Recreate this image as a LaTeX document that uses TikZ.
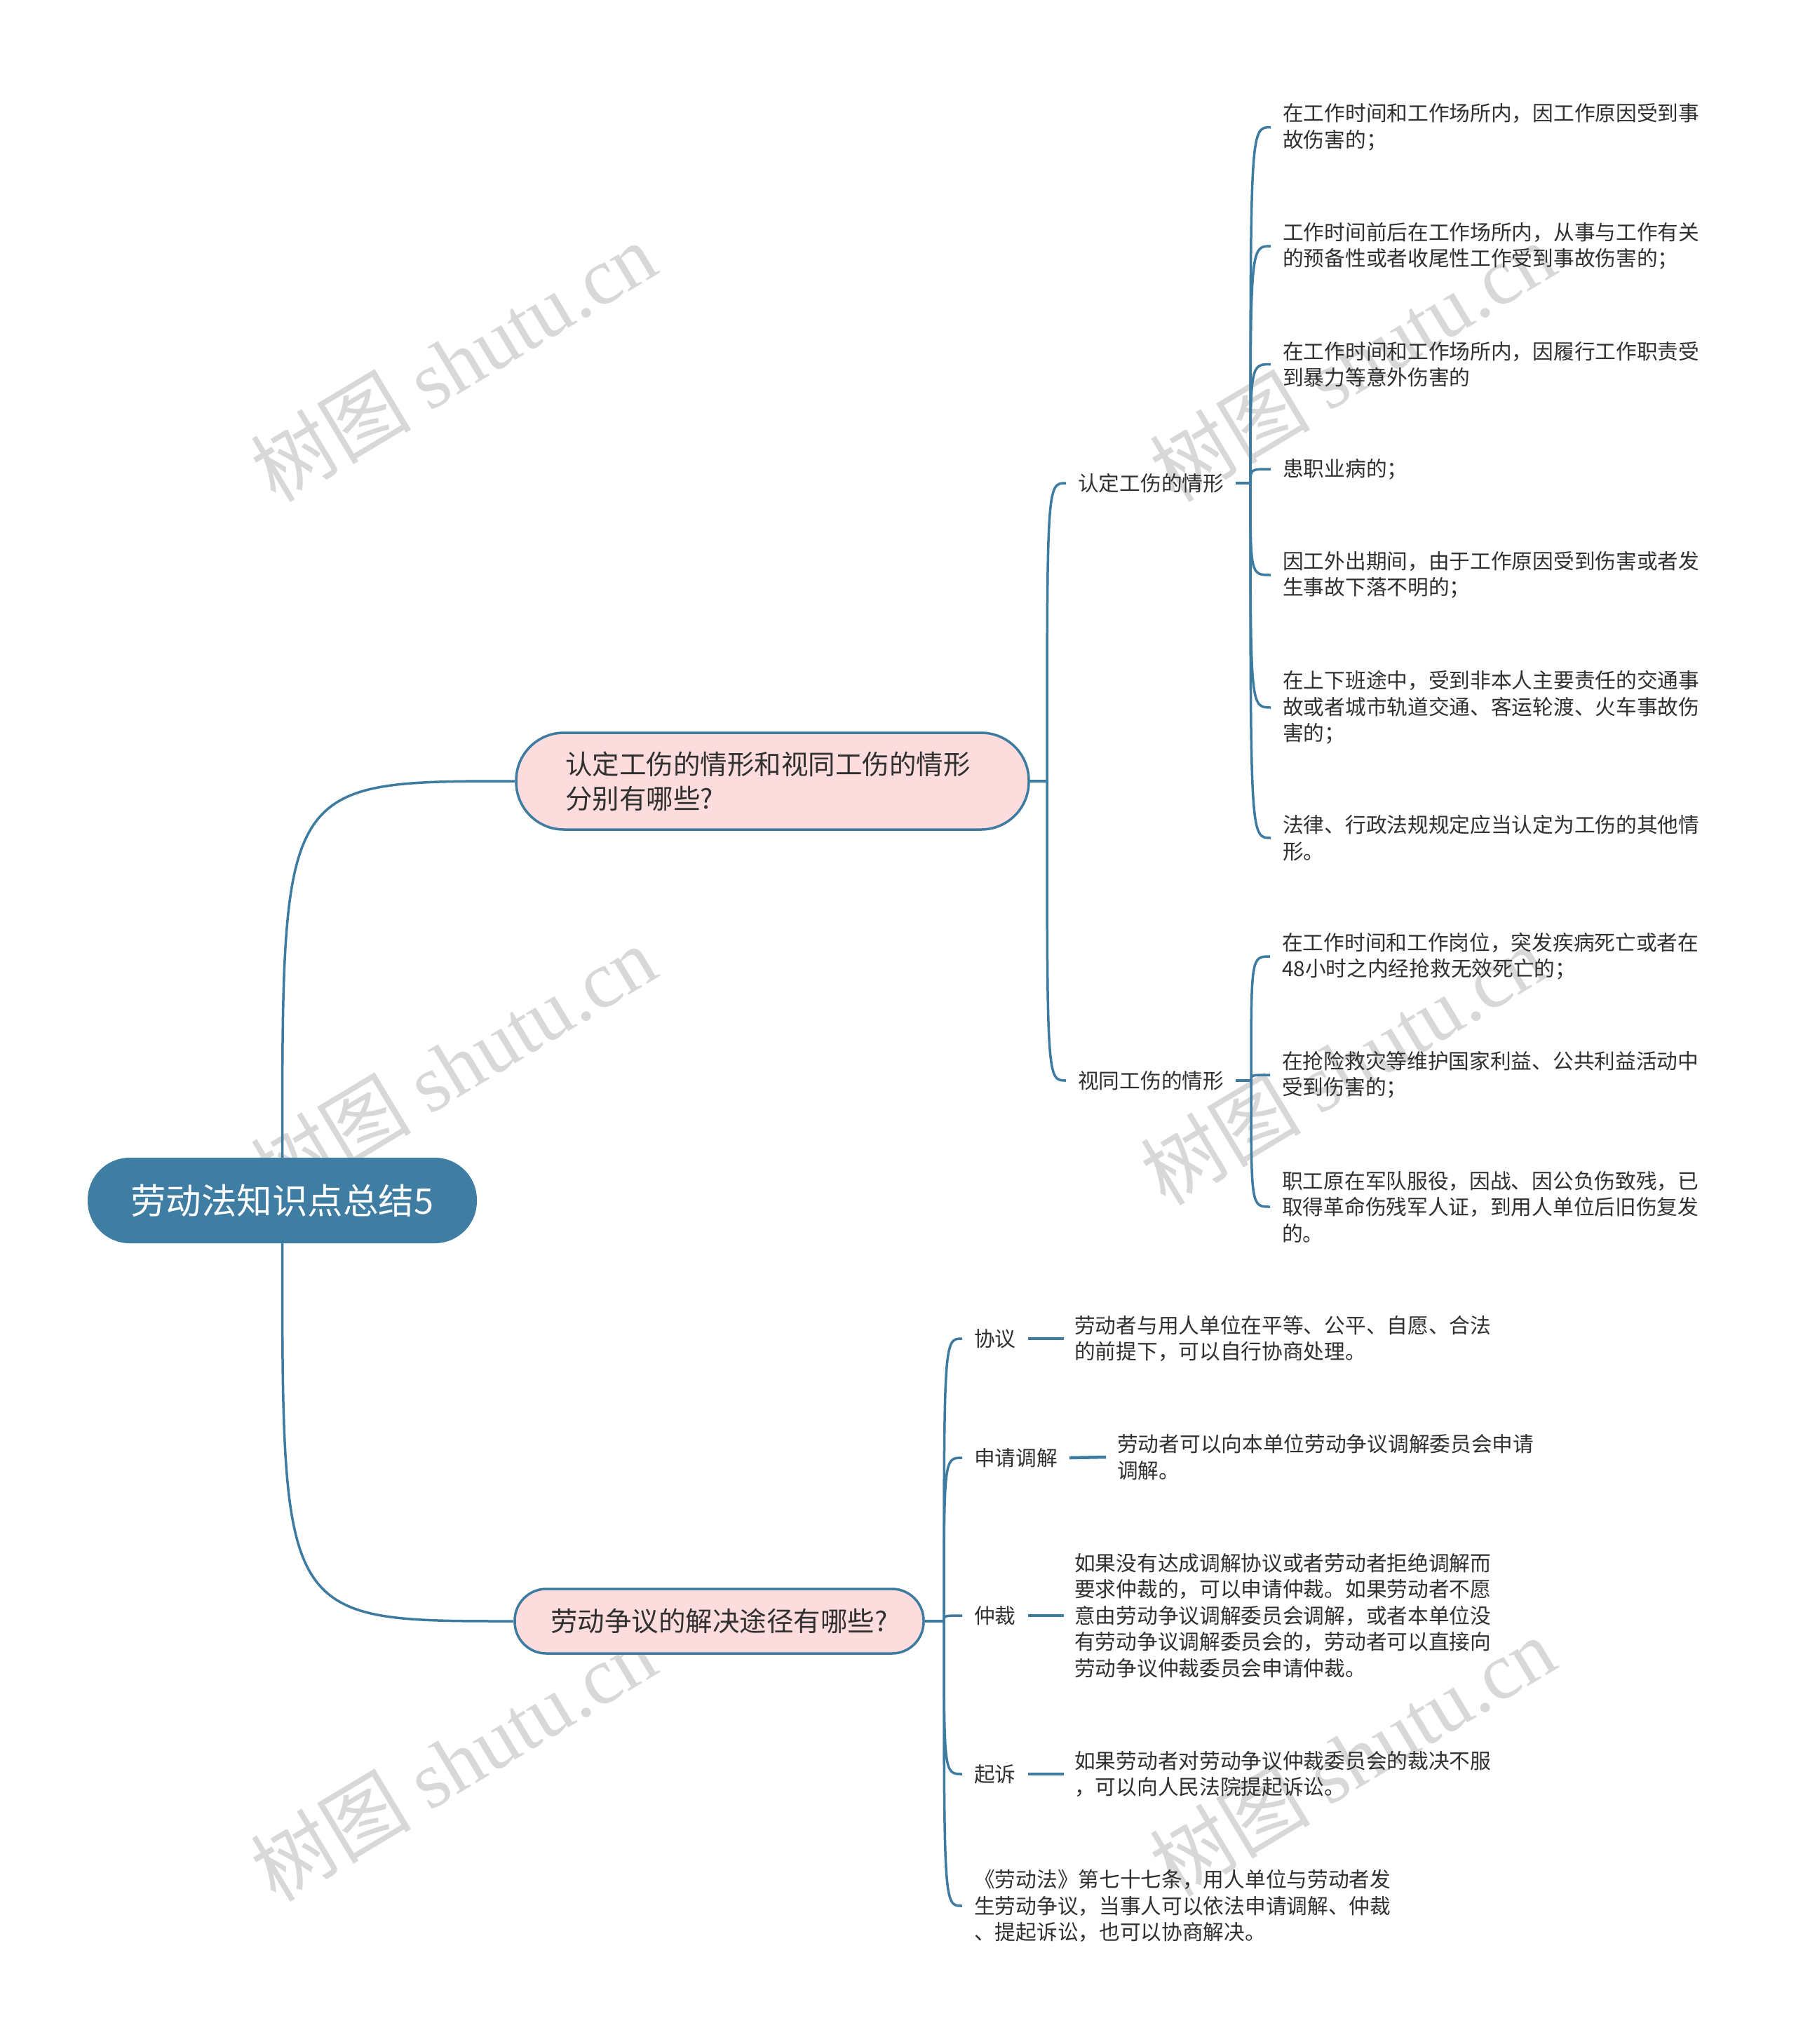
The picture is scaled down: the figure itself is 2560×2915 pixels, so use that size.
\documentclass[tikz,border=0pt]{standalone}
\usepackage{fontspec}
\setmainfont{Noto Sans CJK SC}
\newfontfamily\wmserif{Liberation Serif}
\newfontfamily\wmcjk{Noto Sans CJK SC}
\definecolor{lineblue}{HTML}{3E7BA1}
\definecolor{rootblue}{HTML}{3F7DA3}
\definecolor{pinkfill}{HTML}{FCDCDC}
\definecolor{txt}{HTML}{303030}
\definecolor{wmgray}{HTML}{D8D8D8}
\begin{document}
\begin{tikzpicture}[x=1pt,y=-1pt,
  conn/.style={draw=lineblue, line width=3.5pt},
  stub/.style={draw=lineblue, line width=4.5pt},
  rootbox/.style={fill=rootblue, draw=none, rounded corners=60pt, minimum width=555pt, minimum height=122pt, text=white, font=\fontsize{50.5pt}{60pt}\selectfont},
  branchbox/.style={fill=pinkfill, draw=lineblue, line width=3.5pt, text=txt, font=\fontsize{38.5pt}{49pt}\selectfont},
  lbl/.style={anchor=west, inner xsep=17pt, inner ysep=4pt, text=txt, font=\fontsize{29.7pt}{37.5pt}\selectfont},
  leaf/.style={anchor=west, inner xsep=17pt, inner ysep=4pt, align=left, text=txt, font=\fontsize{29.7pt}{37.5pt}\selectfont},
  wmark/.style={text=wmgray, rotate=31, inner sep=0pt, font=\fontsize{115pt}{130pt}\selectfont}
]
\useasboundingbox[fill=white] (0,0) rectangle (2560,2915);

% watermarks
\node[wmark] (w1) at (646,516) {{\wmcjk 树图} {\wmserif shutu.cn}};
\node[wmark] (w2) at (646,1519) {{\wmcjk 树图} {\wmserif shutu.cn}};
\node[wmark] (w3) at (646,2512) {{\wmcjk 树图} {\wmserif shutu.cn}};
\node[wmark] (w4) at (1928,516) {{\wmcjk 树图} {\wmserif shutu.cn}};
\node[wmark] (w5) at (1915,1519) {{\wmcjk 树图} {\wmserif shutu.cn}};
\node[wmark] (w6) at (1928,2505) {{\wmcjk 树图} {\wmserif shutu.cn}};

% main nodes
\node[rootbox] (root) at (402.5,1712) {劳动法知识点总结5};
\node[branchbox, rounded corners=68pt, minimum width=731pt, minimum height=138pt, text width=591pt, align=left] (b1) at (1101.5,1114) {认定工伤的情形和视同工伤的情形\\分别有哪些?};
\node[branchbox, rounded corners=45pt, minimum width=583pt, minimum height=92pt] (b2) at (1025.5,2312) {劳动争议的解决途径有哪些?};

% level 2 of branch 1
\node[lbl] (l1) at (1520,689) {认定工伤的情形};
\node[lbl] (l2) at (1520,1541) {视同工伤的情形};

\coordinate (j0) at (1493,1114);
\coordinate (j1) at (1783,689);
\coordinate (j2) at (1784,1541);
\coordinate (j3) at (1346,2312);

% leaves of 认定
\node[leaf] (a1) at (1812,181.5) {在工作时间和工作场所内，因工作原因受到事\\故伤害的；};
\node[leaf] (a2) at (1812,351) {工作时间前后在工作场所内，从事与工作有关\\的预备性或者收尾性工作受到事故伤害的；};
\node[leaf] (a3) at (1812,519.5) {在工作时间和工作场所内，因履行工作职责受\\到暴力等意外伤害的};
\node[leaf] (a4) at (1812,669) {患职业病的；};
\node[leaf] (a5) at (1812,820) {因工外出期间，由于工作原因受到伤害或者发\\生事故下落不明的；};
\node[leaf] (a6) at (1812,1009) {在上下班途中，受到非本人主要责任的交通事\\故或者城市轨道交通、客运轮渡、火车事故伤\\害的；};
\node[leaf] (a7) at (1812,1195) {法律、行政法规规定应当认定为工伤的其他情\\形。};

% leaves of 视同
\node[leaf] (s1) at (1811,1364) {在工作时间和工作岗位，突发疾病死亡或者在\\48小时之内经抢救无效死亡的；};
\node[leaf] (s2) at (1811,1533) {在抢险救灾等维护国家利益、公共利益活动中\\受到伤害的；};
\node[leaf] (s3) at (1811,1721) {职工原在军队服役，因战、因公负伤致残，已\\取得革命伤残军人证，到用人单位后旧伤复发\\的。};

% branch 2 children
\node[lbl] (c1) at (1372,1909) {协议};
\node[lbl] (c2) at (1372,2079) {申请调解};
\node[lbl] (c3) at (1372,2304) {仲裁};
\node[lbl] (c4) at (1372,2530) {起诉};
\node[leaf, inner xsep=15pt] (d1) at (1517,1909) {劳动者与用人单位在平等、公平、自愿、合法\\的前提下，可以自行协商处理。};
\node[leaf, inner xsep=16pt] (d2) at (1577,2078) {劳动者可以向本单位劳动争议调解委员会申请\\调解。};
\node[leaf, inner xsep=15pt] (d3) at (1517,2304) {如果没有达成调解协议或者劳动者拒绝调解而\\要求仲裁的，可以申请仲裁。如果劳动者不愿\\意由劳动争议调解委员会调解，或者本单位没\\有劳动争议调解委员会的，劳动者可以直接向\\劳动争议仲裁委员会申请仲裁。};
\node[leaf, inner xsep=15pt] (d4) at (1517,2530) {如果劳动者对劳动争议仲裁委员会的裁决不服\\，可以向人民法院提起诉讼。};
\node[leaf] (d5) at (1372,2718) {《劳动法》第七十七条，用人单位与劳动者发\\生劳动争议，当事人可以依法申请调解、仲裁\\、提起诉讼，也可以协商解决。};

% connectors root
\draw[conn] (root.north) .. controls (root.north |- b1.west) .. (b1.west);
\draw[conn] (root.south) .. controls (root.south |- b2.west) .. (b2.west);

% branch 1
\draw[conn] (b1.east) -- (j0);
\draw[conn] (j0) .. controls (j0 |- l1.west) .. (l1.west);
\draw[conn] (j0) .. controls (j0 |- l2.west) .. (l2.west);
\draw[conn] (l1.east) -- (j1);
\draw[conn] (l2.east) -- (j2);
\foreach \n in {a1,a2,a3,a4,a5,a6,a7}{
  \draw[conn] (j1) .. controls (j1 |- \n.west) .. (\n.west);
}
\foreach \n in {s1,s2,s3}{
  \draw[conn] (j2) .. controls (j2 |- \n.west) .. (\n.west);
}

% branch 2
\draw[conn] (b2.east) -- (j3);
\foreach \n in {c1,c2,c3,c4,d5}{
  \draw[conn] (j3) .. controls (j3 |- \n.west) .. (\n.west);
}
\draw[stub] (c1.east) -- (d1.west);
\draw[stub] (c2.east) -- (d2.west);
\draw[stub] (c3.east) -- (d3.west);
\draw[stub] (c4.east) -- (d4.west);
\end{tikzpicture}
\end{document}
